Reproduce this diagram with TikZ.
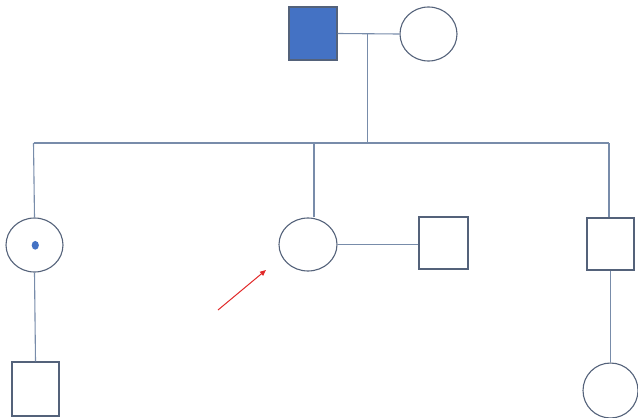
\documentclass[tikz,border=0pt]{standalone}
\usetikzlibrary{shapes.geometric,arrows.meta}
\definecolor{outl}{RGB}{84,98,122}
\definecolor{lin}{RGB}{120,140,170}
\definecolor{fillb}{RGB}{68,114,196}
\definecolor{arr}{RGB}{225,40,40}
\begin{document}
\begin{tikzpicture}[x=1pt,y=-1pt,
  male/.style={rectangle,draw=outl,line width=1.1pt,inner sep=0pt,fill=white},
  female/.style={ellipse,draw=outl,line width=1.1pt,inner sep=0pt,fill=white},
  conn/.style={draw=lin,line width=1.1pt}]
\useasboundingbox (0,0) rectangle (638,418);
% generation 1
\node[male,fill=fillb,minimum width=48pt,minimum height=53pt] (father) at (313,33.5) {};
\node[female,minimum width=57pt,minimum height=54pt] (mother) at (428.5,34) {};
% generation 2
\node[female,minimum width=57pt,minimum height=54pt] (c1) at (34.5,245) {};
\fill[fillb] (35.3,245.3) ellipse (3.6pt and 4.4pt);
\node[female,minimum width=58pt,minimum height=53pt] (c2) at (308,244.5) {};
\node[male,minimum width=49pt,minimum height=52pt] (sp) at (443.5,243) {};
\node[male,minimum width=47pt,minimum height=52pt] (c3) at (610.5,244) {};
% generation 3
\node[male,minimum width=47pt,minimum height=54pt] (gc1) at (35.5,389) {};
\node[female,minimum width=55pt,minimum height=55pt] (gc3) at (610.5,390.5) {};
% coordinates
\coordinate (mid) at (367.7,34);
\coordinate (midlow) at (367.7,143);
\coordinate (sibL) at (33.5,143);
\coordinate (sibM) at (314,143);
\coordinate (sibR) at (609,143);
\coordinate (aS) at (218,310);
\coordinate (aE) at (266,270);
% connectors
\draw[conn] (father.east) -- (mother.west);
\draw[conn] (mid) -- (midlow);
\draw[conn] (sibL) -- (sibR);
\draw[conn] (sibL) -- (c1.north);
\draw[conn] (sibM) -- (sibM |- c2.north);
\draw[conn] (sibR) -- (sibR |- c3.north);
\draw[conn] (c2.east) -- (sp.west |- c2.east);
\draw[conn] (c1.south) -- (gc1.north);
\draw[conn] (c3.south) -- (gc3.north);
\draw[arr,line width=1pt,-{Triangle[length=6pt,width=5pt]}] (aS) -- (aE);
\end{tikzpicture}
\end{document}
